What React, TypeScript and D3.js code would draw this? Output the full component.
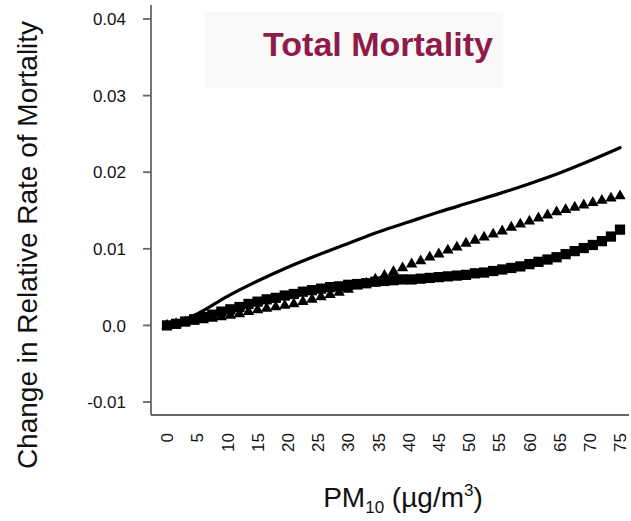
import * as d3 from "d3";

// PM10 grid used by the marker series (every 1.5 µg/m3)
const pmMarkers = d3.range(0, 76.5, 1.5);

// values (x 1e-4)
const triangleVals = [
  0, 2, 4, 5, 7, 9, 11, 13, 15, 18, 20, 22, 24, 26, 28, 31, 34, 37, 40, 43, 47,
  51, 55, 60, 65, 70, 75, 80, 84, 89, 93, 98, 102, 107, 111, 115, 119, 123, 128,
  132, 136, 140, 144, 148, 151, 154, 157, 160, 163, 166, 169,
];
const squareVals = [
  0, 2, 5, 8, 11, 14, 18, 21, 24, 28, 31, 34, 36, 39, 41, 44, 46, 48, 50, 51, 53,
  54, 55, 57, 58, 59, 60, 60, 61, 62, 63, 64, 65, 66, 68, 69, 71, 73, 75, 77, 80,
  83, 86, 89, 93, 97, 101, 105, 110, 116, 125,
];

const pmLine = [0, 5, 10, 15, 20, 25, 30, 35, 40, 45, 50, 55, 60, 65, 70, 75];
const lineVals = [0, 15, 38, 58, 76, 92, 107, 122, 135, 148, 160, 172, 185, 199, 215, 232];

const xTicks = d3.range(0, 80, 5);
const yTicks = [-0.01, 0, 0.01, 0.02, 0.03, 0.04];
const yTickLabels = ["-0.01", "0.0", "0.01", "0.02", "0.03", "0.04"];

const W = 631;
const H = 521;
const FONT = "'Liberation Sans', Arial, Helvetica, sans-serif";

export default function App() {
  const x = d3.scaleLinear().domain([0, 75]).range([167, 620]);
  const y = d3.scaleLinear().domain([-0.01, 0.04]).range([402, 19]);

  const axisLeft = 151;
  const axisBottom = 415;

  const line = d3
    .line<number>()
    .x((_, i) => x(pmLine[i]))
    .y((d) => y(d / 10000))
    .curve(d3.curveMonotoneX);

  const tri = d3.symbol().type(d3.symbolTriangle).size(56)() || "";
  const sq = d3.symbol().type(d3.symbolSquare).size(105)() || "";

  return (
    <svg
      width={W}
      height={H}
      style={{ position: "absolute", left: 0, top: 0, background: "#fff" }}
    >
      {/* title box */}
      <rect x={205} y={12} width={298} height={76} fill="#f9f9f7" />
      <text
        x={378}
        y={56}
        textAnchor="middle"
        fontFamily={FONT}
        fontWeight="bold"
        fontSize={34}
        fill="#8e1b4c"
      >
        Total Mortality
      </text>

      {/* axes */}
      <line x1={axisLeft} x2={axisLeft} y1={5} y2={axisBottom} stroke="#666" strokeWidth={1.8} />
      <line x1={axisLeft} x2={629} y1={axisBottom} y2={axisBottom} stroke="#666" strokeWidth={1.8} />

      {yTicks.map((t, i) => (
        <g key={t}>
          <line x1={axisLeft - 8} x2={axisLeft} y1={y(t)} y2={y(t)} stroke="#666" strokeWidth={1.8} />
          <text
            x={126}
            y={y(t)}
            dy="0.36em"
            textAnchor="end"
            fontFamily={FONT}
            fontSize={17}
            fill="#111"
          >
            {yTickLabels[i]}
          </text>
        </g>
      ))}

      {xTicks.map((t) => (
        <text
          key={t}
          transform={`translate(${x(t)},433) rotate(-90)`}
          dy="0.36em"
          textAnchor="end"
          fontFamily={FONT}
          fontSize={17}
          fill="#111"
        >
          {t}
        </text>
      ))}

      {/* series */}
      {squareVals.map((v, i) => (
        <path key={"s" + i} d={sq} transform={`translate(${x(pmMarkers[i])},${y(v / 10000)})`} fill="#000" />
      ))}
      {triangleVals.map((v, i) => (
        <path key={"t" + i} d={tri} transform={`translate(${x(pmMarkers[i])},${y(v / 10000)})`} fill="#000" />
      ))}
      <path d={line(lineVals) || ""} fill="none" stroke="#000" strokeWidth={3.2} strokeLinecap="round" />

      {/* axis titles */}
      <text
        transform="translate(37,245) rotate(-90)"
        textAnchor="middle"
        fontFamily={FONT}
        fontSize={28}
        fill="#111"
      >
        Change in Relative Rate of Mortality
      </text>
      <text x={403} y={507} textAnchor="middle" fontFamily={FONT} fontSize={28} fill="#111">
        PM
        <tspan fontSize={17} dy={6}>10</tspan>
        <tspan dy={-6}> (µg/m</tspan>
        <tspan fontSize={17} dy={-11}>3</tspan>
        <tspan dy={11}>)</tspan>
      </text>
    </svg>
  );
}
